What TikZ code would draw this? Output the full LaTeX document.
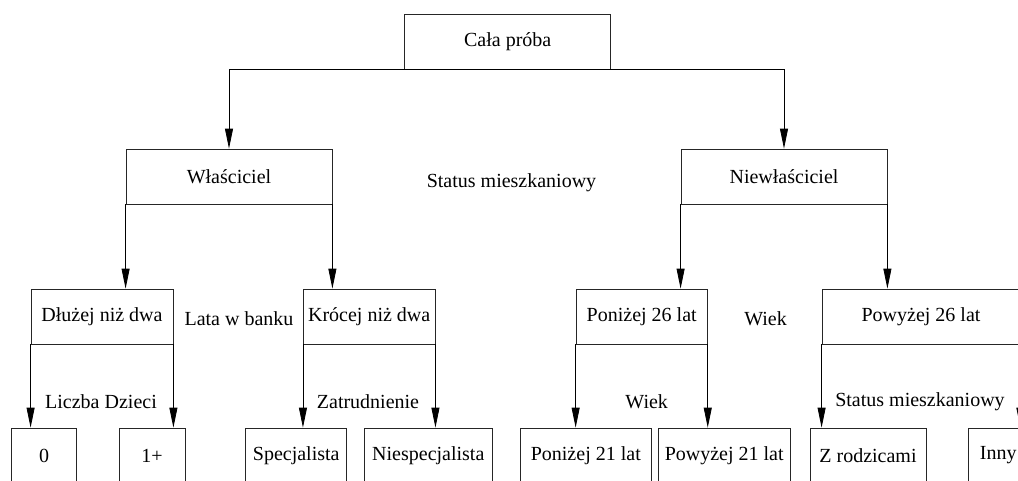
\documentclass[tikz,border=0pt]{standalone}
\usepackage{fontspec}
\setmainfont{Liberation Serif}
\usetikzlibrary{arrows.meta,positioning}
\tikzstyle{box} = [draw=black!85,line width=0.8pt,rectangle,inner sep=0,minimum height=55pt,font=\fontsize{20}{24}\selectfont]
\tikzstyle{lab} = [inner sep=0,font=\fontsize{20}{24}\selectfont]
\tikzstyle{split} = [-{Triangle[length=20pt,width=8pt]},line width=0.8pt]

\begin{document}
\begin{tikzpicture}[x=1pt,y=-1pt]
      \useasboundingbox (0,0) rectangle (1018,480);
      \clip (0,0) rectangle (1018,480);
      % root
      \node[box,minimum width=206pt] (cala) at (507.7,41.5) {Cała próba};
      % level 1
      \node[box,minimum width=206pt] (wl) at (229,176.5) {Właściciel};
      \node[box,minimum width=206pt] (niewl) at (784,176.5) {Niewłaściciel};
      \node[lab] (st1) at (511.5,183) {Status mieszkaniowy};
      \draw[split] (cala.south) -| (wl.north);
      \draw[split] (cala.south) -| (niewl.north);
      % level 2
      \node[box,minimum width=142pt] (dluz) at (102,316.5) {Dłużej niż dwa};
      \node[box,minimum width=131.7pt] (krot) at (369.2,316.5) {Krócej niż dwa};
      \node[box,minimum width=131.3pt] (pon26) at (641.7,316.5) {Poniżej 26 lat};
      \node[box,minimum width=198pt] (pow26) at (921,316.5) {Powyżej 26 lat};
      \node[lab] (lata) at (239,319) {Lata w banku};
      \node[lab] (wiek1) at (765.5,319) {Wiek};
      \draw[split] (wl.south west) -- (wl.south west |- dluz.north);
      \draw[split] (wl.south east) -- (wl.south east |- krot.north);
      \draw[split] (niewl.south west) -- (niewl.south west |- pon26.north);
      \draw[split] (niewl.south east) -- (niewl.south east |- pow26.north);
      % level 3
      \node[box,minimum width=65pt] (zero) at (44.2,455.5) {0};
      \node[box,minimum width=66pt] (jeden) at (152,455.5) {1+};
      \node[box,minimum width=101pt] (spec) at (296.2,455.5) {Specjalista};
      \node[box,minimum width=128.7pt] (niespec) at (428.3,455.5) {Niespecjalista};
      \node[box,minimum width=131.7pt] (pon21) at (585.8,455.5) {Poniżej 21 lat};
      \node[box,minimum width=131.7pt] (pow21) at (724.2,455.5) {Powyżej 21 lat};
      \node[box,minimum width=116pt] (zrodz) at (868,455.5) {Z rodzicami};
      \node[box,minimum width=60pt] (inny) at (998.3,455.5) {Inny};
      \node[lab] (dzieci) at (101,402) {Liczba Dzieci};
      \node[lab] (zatr) at (368,402) {Zatrudnienie};
      \node[lab] (wiek2) at (646.7,402) {Wiek};
      \node[lab] (st2) at (920,402) {Status mieszkaniowy};
      \draw[split] (dluz.south west) -- (dluz.south west |- zero.north);
      \draw[split] (dluz.south east) -- (dluz.south east |- jeden.north);
      \draw[split] (krot.south west) -- (krot.south west |- spec.north);
      \draw[split] (krot.south east) -- (krot.south east |- niespec.north);
      \draw[split] (pon26.south west) -- (pon26.south west |- pon21.north);
      \draw[split] (pon26.south east) -- (pon26.south east |- pow21.north);
      \draw[split] (pow26.south west) -- (pow26.south west |- zrodz.north);
      \draw[split] (pow26.south east) -- (pow26.south east |- inny.north);
\end{tikzpicture}
\end{document}
